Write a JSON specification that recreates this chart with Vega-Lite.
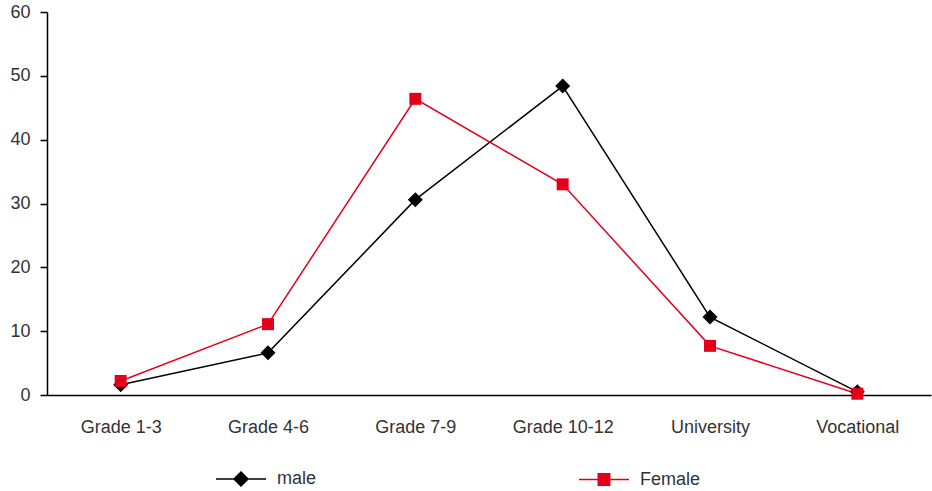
{
  "$schema": "https://vega.github.io/schema/vega-lite/v6.json",
  "width": 884,
  "height": 383,
  "autosize": {"type": "none"},
  "padding": {"left": 47, "top": 12, "right": 1, "bottom": 96},
  "background": "white",
  "config": {
    "view": {"stroke": null},
    "font": "Liberation Sans",
    "axis": {"labelFont": "Liberation Sans", "labelFontSize": 18, "labelColor": "#333333", "domainColor": "#000000", "domainWidth": 1.5, "tickColor": "#000000", "tickWidth": 1.5, "grid": false, "title": null},
    "legend": {"labelFont": "Liberation Sans", "labelFontSize": 18, "labelColor": "#333333"}
  },
  "data": {
    "values": [
      {"level": "Grade 1-3", "sex": "male", "pct": 1.6},
      {"level": "Grade 4-6", "sex": "male", "pct": 6.6},
      {"level": "Grade 7-9", "sex": "male", "pct": 30.6},
      {"level": "Grade 10-12", "sex": "male", "pct": 48.4},
      {"level": "University", "sex": "male", "pct": 12.2},
      {"level": "Vocational", "sex": "male", "pct": 0.5},
      {"level": "Grade 1-3", "sex": "Female", "pct": 2.2},
      {"level": "Grade 4-6", "sex": "Female", "pct": 11.1},
      {"level": "Grade 7-9", "sex": "Female", "pct": 46.4},
      {"level": "Grade 10-12", "sex": "Female", "pct": 33.0},
      {"level": "University", "sex": "Female", "pct": 7.7},
      {"level": "Vocational", "sex": "Female", "pct": 0.2}
    ]
  },
  "encoding": {
    "x": {
      "field": "level", "type": "ordinal", "sort": null,
      "scale": {"type": "point", "padding": 0.5},
      "axis": {"labelAngle": 0, "ticks": false, "labelPadding": 23}
    },
    "y": {
      "field": "pct", "type": "quantitative",
      "scale": {"domain": [0, 60], "nice": false},
      "axis": {"values": [0, 10, 20, 30, 40, 50, 60], "tickSize": 7, "labelPadding": 10}
    }
  },
  "layer": [
    {
      "mark": {"type": "line", "strokeWidth": 1.5},
      "encoding": {
        "color": {
          "field": "sex", "type": "nominal",
          "scale": {"domain": ["male", "Female"], "range": ["#000000", "#e2001a"]},
          "legend": {
            "orient": "none", "direction": "horizontal", "title": null,
            "legendX": 168, "legendY": 441,
            "symbolSize": 2500, "labelOffset": 10, "columnPadding": 259,
            "symbolStrokeWidth": 1.5,
            "encode": {
              "symbols": {
                "update": {
                  "shape": {"signal": "datum.value === 'male' ? 'M-1,0H1M0,-0.28L0.28,0L0,0.28L-0.28,0Z' : 'M-1,0H1M-0.23,-0.23H0.23V0.23H-0.23Z'"},
                  "size": {"value": 2500},
                  "strokeWidth": {"value": 1.5},
                  "fill": {"signal": "datum.value === 'male' ? '#000000' : '#e2001a'"},
                  "stroke": {"signal": "datum.value === 'male' ? '#000000' : '#e2001a'"},
                  "fillOpacity": {"value": 1},
                  "strokeOpacity": {"value": 1},
                  "opacity": {"value": 1}
                }
              }
            }
          }
        },
        "order": {"field": "sex", "sort": "descending"}
      }
    },
    {
      "transform": [{"filter": "datum.sex === 'male'"}],
      "mark": {"type": "point", "filled": true, "opacity": 1, "shape": "diamond", "size": 225, "color": "#000000"}
    },
    {
      "transform": [{"filter": "datum.sex === 'Female'"}],
      "mark": {"type": "point", "filled": true, "opacity": 1, "shape": "square", "size": 144, "color": "#e2001a"}
    }
  ]
}
